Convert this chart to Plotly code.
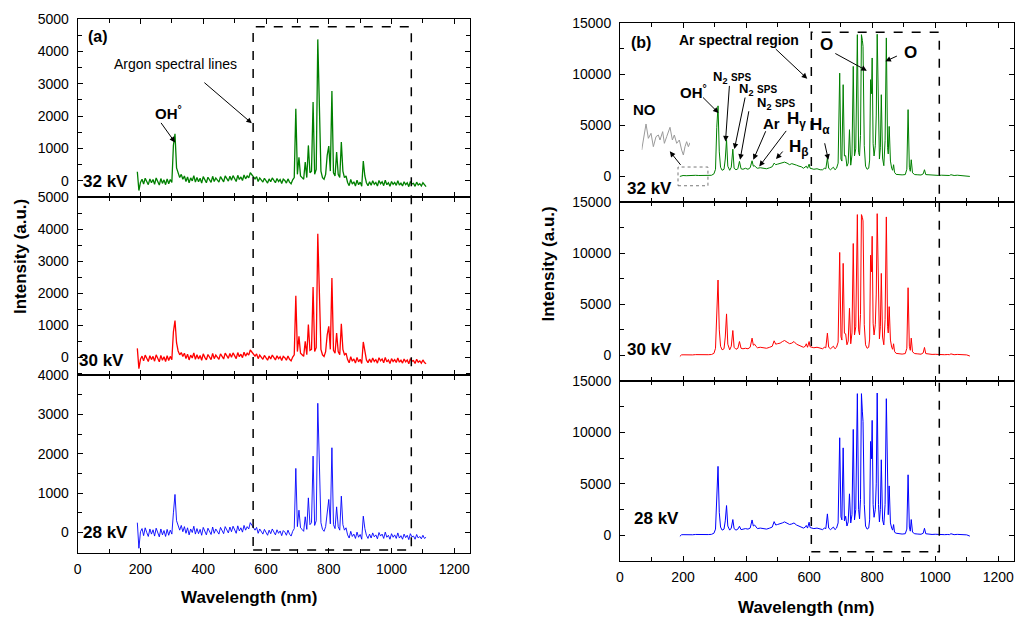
import plotly.graph_objects as go

# ---------------- data ----------------
# left panel (a): sampled every 5 nm from 190 to 1110 nm
wl_left = list(range(190, 1111, 5))

g_left = [280, -300, -50, 50, -100, 80, -20, -120, 60, -60,
          40, -110, 90, -40, -130, 70, -80, 30, -120, 60,
          -90, 40, -50, 1100, 1450, 400, 250, 100, 200, 50,
          150, -20, 120, -60, 90, 0, 160, -40, 100, -30,
          80, -70, 130, 20, -60, 110, 30, -50, 140, -20,
          90, 10, -40, 130, 40, -30, 150, 60, -10, 140,
          20, 160, 50, -20, 170, 40, 120, 10, 180, 60,
          150, 90, 250, 180, 120, 60, 130, -20, 90, 30,
          -40, 80, 20, -70, 60, -30, 90, 0, -60, 70,
          -20, 40, -80, 50, 10, -70, 60, -40, -90, 30,
          100, 2230, 200, 730, 150, 100, 50, 576, 100, 1094,
          250, 300, 2437, 200, 350, 4370, 2046, 300, 100, 50,
          200, 784, 1072, 300, 2778, 250, 150, 887, 200, 100,
          1197, 300, 100, 150, -50, -150, 40, -100, -30, -160,
          20, -120, -40, -170, 608, 150, -60, -150, -30, -140,
          0, -110, -50, -160, 10, -90, -30, -150, 20, -120,
          -60, -170, -20, -110, -50, -140, 0, -130, -70, -160,
          -30, -120, -60, -180, -20, -100, -80, -170, -40, -130,
          -90, -160, -60, -140, -180]

r_left = [280, -350, -60, 40, -110, 70, -30, -130, 50, -70,
          30, -120, 80, -50, -140, 60, -90, 20, -130, 50,
          -100, 30, -70, 800, 1150, 450, 200, 80, 150, 30,
          130, -40, 100, -80, 70, -20, 140, -60, 80, -50,
          60, -90, 110, 0, -80, 90, 10, -70, 120, -40,
          70, -10, -60, 110, 20, -50, 130, 40, -30, 120,
          0, 140, 30, -40, 150, 20, 100, -10, 160, 40,
          130, 70, 230, 160, 100, 40, 110, -40, 70, 10,
          -60, 60, 0, -90, 40, -50, 70, -20, -80, 50,
          -40, 20, -100, 30, -10, -90, 40, -60, -110, 10,
          80, 1924, 180, 655, 130, 80, 30, 500, 80, 1020,
          220, 250, 2195, 180, 300, 3857, 1768, 250, 80, 30,
          180, 700, 967, 250, 2475, 220, 130, 760, 180, 80,
          1050, 250, 80, 130, -70, -170, 20, -120, -50, -180,
          0, -140, -60, -190, 480, 130, -80, -170, -50, -160,
          -20, -130, -70, -180, -10, -110, -50, -170, 0, -140,
          -80, -190, -40, -130, -70, -160, -20, -150, -90, -180,
          -50, -140, -80, -200, -40, -120, -100, -190, -60, -150,
          -110, -180, -80, -160, -200]

b_left = [250, -400, 20, 100, -80, 120, 0, -100, 90, -40,
          70, -90, 110, -20, -110, 90, -60, 50, -100, 80,
          -70, 60, -40, 500, 967, 300, 150, 60, 180, 20,
          150, -20, 120, -60, 90, 0, 160, -40, 100, -30,
          80, -70, 130, 20, -60, 110, 30, -50, 140, -20,
          90, 10, -40, 130, 40, -30, 150, 60, -10, 140,
          20, 160, 50, -20, 170, 40, 120, 10, 180, 60,
          150, 90, 250, 180, 120, 60, 130, -20, 90, 30,
          -40, 80, 20, -70, 60, -30, 90, 0, -60, 70,
          -20, 40, -80, 50, 10, -70, 60, -40, -90, 30,
          100, 1628, 150, 567, 120, 80, 30, 400, 80, 880,
          200, 250, 1941, 180, 300, 3282, 1476, 250, 80, 30,
          150, 550, 840, 220, 2153, 200, 100, 652, 150, 60,
          924, 200, 60, 120, -60, -140, 30, -100, -40, -150,
          10, -120, -50, -170, 415, 100, -70, -150, -40, -140,
          -10, -110, -60, -160, 0, -90, -40, -150, 10, -120,
          -70, -170, -30, -120, -60, -150, -10, -140, -80, -170,
          -40, -130, -70, -180, -30, -110, -90, -170, -50, -140,
          -100, -160, -70, -150, -120]

# right panel (b)
wl_right = [190, 195, 200, 210, 220, 230, 240, 250, 260, 270,
            280, 290, 298, 303, 307, 311, 315, 319, 324, 330,
            334, 338, 342, 348, 353, 358, 362, 368, 374, 379,
            384, 390, 398, 406, 413, 419, 423, 427, 431, 436,
            445, 455, 465, 475, 483, 489, 494, 500, 508, 515,
            522, 530, 538, 545, 552, 560, 568, 575, 582, 588,
            591, 595, 600, 603, 607, 615, 625, 635, 643, 648,
            653, 658, 662, 668, 673, 677, 682, 687, 692, 697,
            701, 704, 708, 712, 716, 720, 724, 728, 732, 736,
            740, 744, 748, 753, 757, 760, 763, 766, 769, 771,
            775, 779, 784, 789, 792, 795, 798, 800, 803, 806,
            810, 813, 816, 820, 823, 826, 829, 833, 837, 841,
            845, 849, 851, 854, 858, 862, 865, 868, 871, 876,
            885, 895, 905, 910, 914, 918, 921, 924, 928, 935,
            945, 955, 962, 966, 970, 980, 990, 1000, 1010, 1020,
            1030, 1040, 1045, 1050, 1055, 1060, 1070, 1080, 1090, 1100,
            1110]

g_right = [0, 80, 90, 70, 100, 80, 110, 90, 80, 100,
           90, 110, 250, 700, 4800, 6900, 2400, 900, 600, 700,
           1700, 3590, 1000, 600, 900, 2670, 800, 650, 750, 1470,
           750, 700, 800, 700, 850, 1530, 1000, 1050, 900, 800,
           850, 800, 750, 850, 950, 1300, 1150, 1200, 1250, 1350,
           1400, 1300, 1150, 1250, 1200, 1100, 1000, 950, 800, 900,
           1000, 800, 1200, 800, 750, 700, 750, 650, 650, 800,
           750, 1800, 800, 650, 800, 900, 650, 800, 1300, 10100,
           1700, 1500, 8970, 2000, 2030, 1000, 1300, 4570, 1100, 2100,
           10760, 2000, 2700, 13860, 2330, 2000, 4000, 13860, 13300, 12720,
           3000, 1000, 700, 800, 1600, 9460, 8090, 11580, 3200, 2000,
           3000, 6000, 13900, 3500, 1700, 2800, 7990, 1800, 1050, 3500,
           13540, 2800, 2200, 4890, 1500, 800, 600, 1145, 400, 200,
           165, 150, 180, 700, 6530, 900, 500, 1630, 350, 180,
           160, 140, 250, 655, 180, 150, 120, 130, 100, 120,
           90, 110, 90, 170, 100, 90, 120, 90, 110, 70,
           0]

r_right = [-100, 50, 60, 40, 70, 50, 80, 60, 50, 80,
           70, 90, 200, 700, 5000, 7370, 2500, 900, 550, 650,
           1800, 4060, 1100, 550, 900, 2435, 800, 600, 700, 1360,
           700, 650, 700, 650, 800, 1690, 1000, 1100, 900, 750,
           800, 750, 700, 800, 900, 1430, 1100, 1150, 1200, 1350,
           1460, 1300, 1150, 1200, 1360, 1100, 1000, 950, 800, 900,
           1140, 800, 1360, 850, 800, 750, 800, 700, 650, 800,
           750, 2180, 800, 650, 800, 900, 650, 800, 1300, 10070,
           1830, 1500, 9000, 2170, 2110, 1040, 1400, 4610, 1140, 2200,
           10940, 2000, 2800, 13770, 2500, 2010, 4000, 13770, 13500, 13150,
           3000, 1040, 700, 800, 1600, 9800, 8180, 11650, 3150, 2000,
           3000, 6000, 13860, 3500, 1620, 2800, 8020, 1800, 1040, 3500,
           13540, 2800, 2200, 4770, 1500, 800, 600, 1140, 400, 200,
           150, 130, 180, 700, 6620, 900, 500, 1690, 350, 180,
           150, 120, 250, 780, 180, 120, 100, 110, 80, 100,
           70, 90, 70, 150, 80, 70, 100, 70, 90, 50,
           -60]

b_right = [-100, 50, 60, 40, 70, 50, 80, 60, 50, 80,
           70, 90, 200, 600, 4500, 6700, 2200, 800, 500, 600,
           1400, 2890, 900, 500, 700, 1530, 650, 500, 600, 880,
           550, 600, 650, 600, 700, 1490, 900, 1000, 800, 650,
           700, 650, 600, 700, 800, 1330, 1000, 1050, 1100, 1200,
           1300, 1150, 1050, 1100, 1200, 1000, 900, 850, 700, 800,
           950, 700, 1270, 750, 700, 650, 700, 600, 550, 700,
           650, 2080, 700, 550, 700, 800, 550, 700, 1200, 9480,
           1800, 1500, 8500, 1400, 1850, 900, 1300, 4030, 1200, 2000,
           10290, 1500, 2500, 13770, 2500, 1600, 3500, 13770, 12000, 11070,
           3000, 900, 600, 700, 1500, 9120, 7440, 11170, 3000, 1750,
           2500, 5000, 13830, 3000, 1300, 2500, 7340, 1500, 1000, 3000,
           13280, 2500, 2000, 4800, 1200, 700, 500, 1040, 300, 200,
           150, 120, 150, 600, 5880, 800, 400, 1530, 300, 150,
           120, 100, 200, 680, 150, 100, 80, 100, 70, 90,
           60, 80, 60, 150, 70, 60, 90, 60, 80, 40,
           -80]

# NO band, magnified inset (arbitrary units)
no_wl = [195, 202.6, 206.7, 211.4, 215.5, 220.2, 224.3, 227.2, 231.9, 234.9, 239,
         244.8, 249, 252.4, 256.6, 261.2, 265.3, 268.3, 271.2, 274.1, 277.1, 280]
no_int = [20, 98, 55, 70, 30, 60, 65, 50, 75, 40, 60,
          88, 50, 65, 40, 50, 20, 5, 30, 45, 30, 42]

voltages = ["32 kV", "30 kV", "28 kV"]

assert len(g_left) == len(wl_left) == len(r_left) == len(b_left)
assert len(g_right) == len(wl_right) == len(r_right) == len(b_right)

# ---------------- figure ----------------
FONT = "Arial, Liberation Sans, sans-serif"
W, H = 1016, 617
GREEN, RED, BLUE = "#008000", "#ff0000", "#0000ff"

fig = go.Figure()

left_series = [g_left, r_left, b_left]
right_series = [g_right, r_right, b_right]
colors = [GREEN, RED, BLUE]
left_widths = [1.3, 1.3, 0.9]

for i in range(3):
    fig.add_trace(go.Scatter(x=wl_left, y=left_series[i], mode="lines",
                             line=dict(color=colors[i], width=left_widths[i]),
                             xaxis=f"x{i+1}", yaxis=f"y{i+1}", showlegend=False))
for i in range(3):
    fig.add_trace(go.Scatter(x=wl_right, y=right_series[i], mode="lines",
                             line=dict(color=colors[i], width=1),
                             xaxis=f"x{i+4}", yaxis=f"y{i+4}", showlegend=False))
fig.add_trace(go.Scatter(x=no_wl, y=no_int, mode="lines",
                         line=dict(color="#9a9a9a", width=1),
                         xaxis="x7", yaxis="y7", showlegend=False))

def py(p):
    return 1 - p / H

left_dom_x = [77.7 / W, 470 / W]
right_dom_x = [620 / W, 1014 / W]
left_dom_y = [[py(197), py(19)], [py(375), py(197)], [py(553), py(375)]]
right_dom_y = [[py(202), py(23)], [py(381), py(202)], [py(561), py(381)]]
left_ranges = [[-500, 5000], [-550, 5000], [-520, 4000]]

tickfont = dict(family=FONT, size=14, color="black")

def xax(domain, anchor, labels):
    return dict(domain=domain, anchor=anchor, range=[0, 1250], showline=True, linecolor="black",
                linewidth=1, mirror="ticks", ticks="inside", ticklen=5, tickwidth=1,
                tickcolor="black", dtick=200, tick0=0, showticklabels=labels,
                tickfont=tickfont, showgrid=False, zeroline=False, automargin=False,
                ticklabelstandoff=3, tickformat="d",
                minor=dict(dtick=100, ticks="inside", ticklen=4, tickcolor="black", showgrid=False))

def yax(domain, anchor, rng, dtick, minor):
    return dict(domain=domain, anchor=anchor, range=rng, showline=True, linecolor="black",
                linewidth=1, mirror="ticks", ticks="inside", ticklen=5, tickwidth=1,
                tickcolor="black", dtick=dtick, tick0=0, tickfont=tickfont, tickformat="d",
                showgrid=False, zeroline=False, automargin=False, ticklabelstandoff=5,
                minor=dict(dtick=minor, ticks="inside", ticklen=4, tickcolor="black", showgrid=False))

layout = dict(width=W, height=H, margin=dict(l=0, r=0, t=0, b=0),
              paper_bgcolor="white", plot_bgcolor="white", showlegend=False,
              font=dict(family=FONT, color="black"))
for i in range(3):
    n = "" if i == 0 else str(i + 1)
    layout["xaxis" + n] = xax(left_dom_x, f"y{i+1}", i == 2)
    layout["yaxis" + n] = yax(left_dom_y[i], f"x{i+1}", left_ranges[i], 1000, 500)
for i in range(3):
    layout[f"xaxis{i+4}"] = xax(right_dom_x, f"y{i+4}", i == 2)
    layout[f"yaxis{i+4}"] = yax(right_dom_y[i], f"x{i+4}", [-2500, 15000], 5000, 2500)
layout["xaxis7"] = dict(domain=[641.7 / W, 690 / W], anchor="y7", range=[195, 280], visible=False)
layout["yaxis7"] = dict(domain=[py(156.7), py(123.3)], anchor="x7", range=[0, 100], visible=False)
fig.update_layout(**layout)

ann = []

def txt(text, x, y, xr, yr, size=15, bold=True):
    ann.append(dict(text=f"<b>{text}</b>" if bold else text, x=x, y=y, xref=xr, yref=yr,
                    showarrow=False, xanchor="center", yanchor="middle",
                    font=dict(family=FONT, size=size, color="black")))

def arrow(x, y, ax, ay, xr, yr):
    ann.append(dict(text="", x=x, y=y, xref=xr, yref=yr, ax=ax, ay=ay, showarrow=True,
                    arrowhead=2, arrowsize=1.1, arrowwidth=1, arrowcolor="black"))

# panel (a)
txt("(a)", 65, 4470, "x", "y", 16)
txt("Argon spectral lines", 312, 3600, "x", "y", 14, bold=False)
arrow(555, 1776, -49, -42, "x", "y")
txt("OH<sup>°</sup>", 288, 2120, "x", "y", 15)
arrow(310, 1187, -15, -21, "x", "y")
txt(voltages[0], 90, -20, "x", "y", 17)
txt(voltages[1], 76, -100, "x2", "y2", 17)
txt(voltages[2], 90, 0, "x3", "y3", 17)

# panel (b)
txt("(b)", 68, 13050, "x4", "y4", 16)
txt("Ar spectral region", 378, 13375, "x4", "y4", 14)
arrow(594, 9560, -33, -31, "x4", "y4")
txt("O", 654, 12880, "x4", "y4", 17)
arrow(783, 10340, -33, -18, "x4", "y4")
txt("O", 922, 12130, "x4", "y4", 17)
arrow(842, 11250, 13, -6, "x4", "y4")
txt("OH<sup>°</sup>", 232, 8260, "x4", "y4", 15)
arrow(312.6, 6200, -17, -17, "x4", "y4")
sps = "N<sub>2</sub> <span style='font-size:10px'>SPS</span>"
txt(sps, 355, 9700, "x4", "y4", 13)
arrow(334.7, 3425, 4, -57, "x4", "y4")
txt(sps, 438, 8500, "x4", "y4", 13)
arrow(363, 2680, 11, -53, "x4", "y4")
txt(sps, 495, 7150, "x4", "y4", 13)
arrow(381, 1630, 9, -50, "x4", "y4")
txt("Ar", 481.5, 5220, "x4", "y4", 15)
arrow(423, 1630, 13, -30, "x4", "y4")
txt("H<sub>γ</sub>", 559, 5540, "x4", "y4", 17)
arrow(442, 980, 28, -37, "x4", "y4")
txt("H<sub>β</sub>", 568, 2810, "x4", "y4", 17)
arrow(495, 1700, 8, -9, "x4", "y4")
txt("H<sub>α</sub>", 635, 4960, "x4", "y4", 17)
arrow(661, 1630, -4, -18, "x4", "y4")
txt("NO", 79, 6530, "x4", "y4", 15)
arrow(158, 2450, 12, 15, "x4", "y4")
txt(voltages[0], 92, -1135, "x4", "y4", 17)
txt(voltages[1], 92, 620, "x5", "y5", 17)
txt(voltages[2], 117, 1600, "x6", "y6", 17)

# axis titles
def title(text, x, y, angle=0):
    ann.append(dict(text=f"<b>{text}</b>", x=x / W, y=py(y), xref="paper", yref="paper",
                    showarrow=False, textangle=angle, xanchor="center", yanchor="middle",
                    font=dict(family=FONT, size=17, color="black")))

title("Intensity (a.u.)", 20, 257, -90)
title("Intensity (a.u.)", 547.5, 264, -90)
title("Wavelength (nm)", 249, 597)
title("Wavelength (nm)", 806, 607)
fig.update_layout(annotations=ann)

# dashed regions and NO box
fig.add_shape(type="rect", xref="x3", yref="paper", x0=559, x1=1063, y0=py(550), y1=py(26.7),
              line=dict(color="black", width=1.5, dash="dash"), layer="above")
fig.add_shape(type="rect", xref="x6", yref="paper", x0=607, x1=1013, y0=py(551.7), y1=py(32.3),
              line=dict(color="black", width=1.5, dash="dash"), layer="above")
fig.add_shape(type="rect", xref="x4", yref="y4", x0=184, x1=279, y0=-910, y1=920,
              line=dict(color="#555555", width=0.8, dash="dot"), layer="above")

fig.write_html("out.html")
